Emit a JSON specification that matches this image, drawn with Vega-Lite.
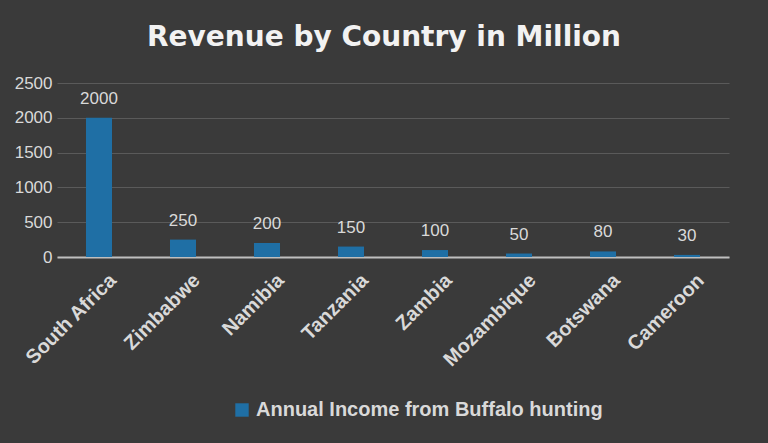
{
  "$schema": "https://vega.github.io/schema/vega-lite/v6.json",
  "width": 672,
  "height": 174,
  "autosize": {"type": "none"},
  "padding": {"left": 57, "top": 83, "right": 39, "bottom": 186},
  "background": "#3a3a3a",
  "title": {
    "text": "Revenue by Country in Million",
    "font": "DejaVu Sans",
    "fontSize": 28,
    "fontWeight": "bold",
    "color": "#f2f2f2",
    "anchor": "middle",
    "dx": -9,
    "offset": 22
  },
  "data": {
    "values": [
      {"country": "South Africa", "revenue": 2000},
      {"country": "Zimbabwe", "revenue": 250},
      {"country": "Namibia", "revenue": 200},
      {"country": "Tanzania", "revenue": 150},
      {"country": "Zambia", "revenue": 100},
      {"country": "Mozambique", "revenue": 50},
      {"country": "Botswana", "revenue": 80},
      {"country": "Cameroon", "revenue": 30}
    ]
  },
  "encoding": {
    "x": {
      "field": "country",
      "type": "nominal",
      "sort": null,
      "title": null,
      "scale": {"paddingInner": 0.69, "paddingOuter": 0.345},
      "axis": {
        "labelAngle": -45,
        "labelAlign": "right",
        "labelBaseline": "middle",
        "labelFont": "Liberation Sans",
        "labelFontSize": 20,
        "labelFontWeight": "bold",
        "labelColor": "#d9d9d9",
        "labelPadding": 20,
        "labelOffset": 14,
        "labelLimit": 0,
        "ticks": false,
        "domainColor": "#bfbfbf",
        "domainWidth": 2,
        "grid": false
      }
    },
    "y": {
      "field": "revenue",
      "type": "quantitative",
      "title": null,
      "scale": {"domain": [0, 2500]},
      "axis": {
        "values": [0, 500, 1000, 1500, 2000, 2500],
        "format": "d",
        "labelFont": "Liberation Sans",
        "labelFontSize": 17,
        "labelColor": "#d9d9d9",
        "labelPadding": 5,
        "ticks": false,
        "domain": false,
        "gridColor": "#5a5a5a",
        "gridWidth": 1
      }
    }
  },
  "layer": [
    {
      "mark": {"type": "bar"},
      "encoding": {
        "color": {
          "datum": "Annual Income from Buffalo hunting",
          "type": "nominal",
          "scale": {"range": ["#1f6fa5"]},
          "legend": {
            "title": null,
            "orient": "none",
            "legendX": 175,
            "legendY": 317,
            "symbolType": "square",
            "symbolSize": 180,
            "labelFont": "Liberation Sans",
            "labelFontSize": 20,
            "labelFontWeight": "bold",
            "labelColor": "#d9d9d9",
            "labelLimit": 0
          }
        }
      }
    },
    {
      "mark": {
        "type": "text",
        "baseline": "bottom",
        "dy": -10,
        "font": "Liberation Sans",
        "fontSize": 17,
        "color": "#d9d9d9"
      },
      "encoding": {
        "text": {"field": "revenue", "type": "quantitative"}
      }
    }
  ],
  "config": {
    "view": {"stroke": null}
  }
}
